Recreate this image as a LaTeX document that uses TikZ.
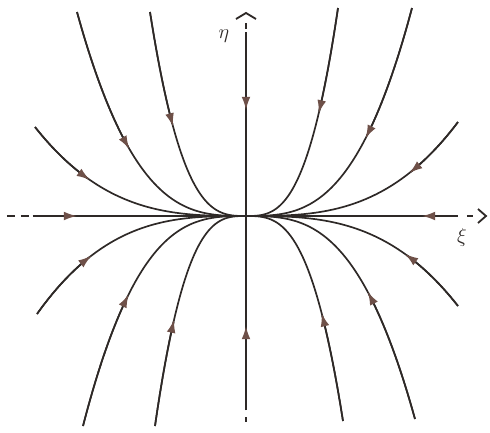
\documentclass[tikz,border=0pt]{standalone}
\usepackage{amsmath}
\usepackage{tikz}
\usetikzlibrary{arrows.meta,calc}

\definecolor{ink}{HTML}{2E2927}
\definecolor{tipbrown}{HTML}{6E5048}

\begin{document}
\begin{tikzpicture}[
  x=0.25mm, y=0.25mm,
  axis/.style={ink, line width=1.3pt},
  orbit/.style={ink, line width=1.2pt, samples=40, smooth},
  flow/.style={ink, line width=1.2pt, samples=30, smooth, -{Latex[length=3.3mm, width=2.2mm, fill=tipbrown, color=tipbrown]}},
  lbl/.style={font=\Large, text=ink}
]
\useasboundingbox (-246,-216) rectangle (244,216);

% axes
\coordinate (xa) at (-213,0);
\coordinate (xb) at (212,0);
\coordinate (xr) at (240,0);
\coordinate (ya) at (0,-194);
\coordinate (yc) at (0,184);
\coordinate (yt) at (0,203);
\draw[axis] (-239,0) -- (-231,0) (-225,0) -- (-217,0);
\draw[axis] (xa) -- (xb);
\draw[axis] (221,0) -- (227,0);
\draw[axis] ($(xr)+(-8,7)$) -- (xr) -- ($(xr)+(-8,-7)$);
\draw[axis] (ya) -- (yc);
\draw[axis] (0,187) -- (0,193);
\draw[axis] ($(yt)+(-10,-6)$) -- (yt) -- ($(yt)+(10,-6)$);
\draw[axis] (0,-201) -- (0,-206);
\node[lbl] (eta) at (-22,180) {$\eta$};
\node[lbl] (xi) at (216,-21) {$\xi$};

% arrows on the axes
\draw[flow] (xa) -- (-169,0);
\draw[flow] (xb) -- (176,0);
\draw[flow] (yc) -- (0,106);
\draw[flow] (ya) -- (0,-110);

% upper left
\draw[orbit] plot[domain=1:0] ({-169*\x},{204*\x*\x*\x});
\draw[flow] plot[domain=1:0.69] ({-169*\x},{204*\x*\x*\x});
\draw[orbit] plot[domain=1:0] ({-96*\x},{204*\x*\x*\x});
\draw[flow] plot[domain=1:0.76] ({-96*\x},{204*\x*\x*\x});
\draw[orbit] plot[domain=1:0] ({-211*\x},{89*\x*\x*\x});
\draw[flow] plot[domain=1:0.74] ({-211*\x},{89*\x*\x*\x});

% upper right
\draw[orbit] plot[domain=1:0] ({92*\x},{208*\x*\x*\x});
\draw[flow] plot[domain=1:0.79] ({92*\x},{208*\x*\x*\x});
\draw[orbit] plot[domain=1:0] ({166*\x},{208*\x*\x*\x});
\draw[flow] plot[domain=1:0.72] ({166*\x},{208*\x*\x*\x});
\draw[orbit] plot[domain=1:0] ({212*\x},{94*\x*\x*\x});
\draw[flow] plot[domain=1:0.77] ({212*\x},{94*\x*\x*\x});

% lower left
\draw[orbit] plot[domain=1:0] ({-209*\x},{-98*\x*\x*\x});
\draw[flow] plot[domain=1:0.74] ({-209*\x},{-98*\x*\x*\x});
\draw[orbit] plot[domain=1:0] ({-163*\x},{-210*\x*\x*\x});
\draw[flow] plot[domain=1:0.72] ({-163*\x},{-210*\x*\x*\x});
\draw[orbit] plot[domain=1:0] ({-91*\x},{-210*\x*\x*\x});
\draw[flow] plot[domain=1:0.79] ({-91*\x},{-210*\x*\x*\x});

% lower right
\draw[orbit] plot[domain=1:0] ({97*\x},{-205*\x*\x*\x});
\draw[flow] plot[domain=1:0.78] ({97*\x},{-205*\x*\x*\x});
\draw[orbit] plot[domain=1:0] ({169*\x},{-203*\x*\x*\x});
\draw[flow] plot[domain=1:0.72] ({169*\x},{-203*\x*\x*\x});
\draw[orbit] plot[domain=1:0] ({212*\x},{-90*\x*\x*\x});
\draw[flow] plot[domain=1:0.75] ({212*\x},{-90*\x*\x*\x});
\end{tikzpicture}
\end{document}
